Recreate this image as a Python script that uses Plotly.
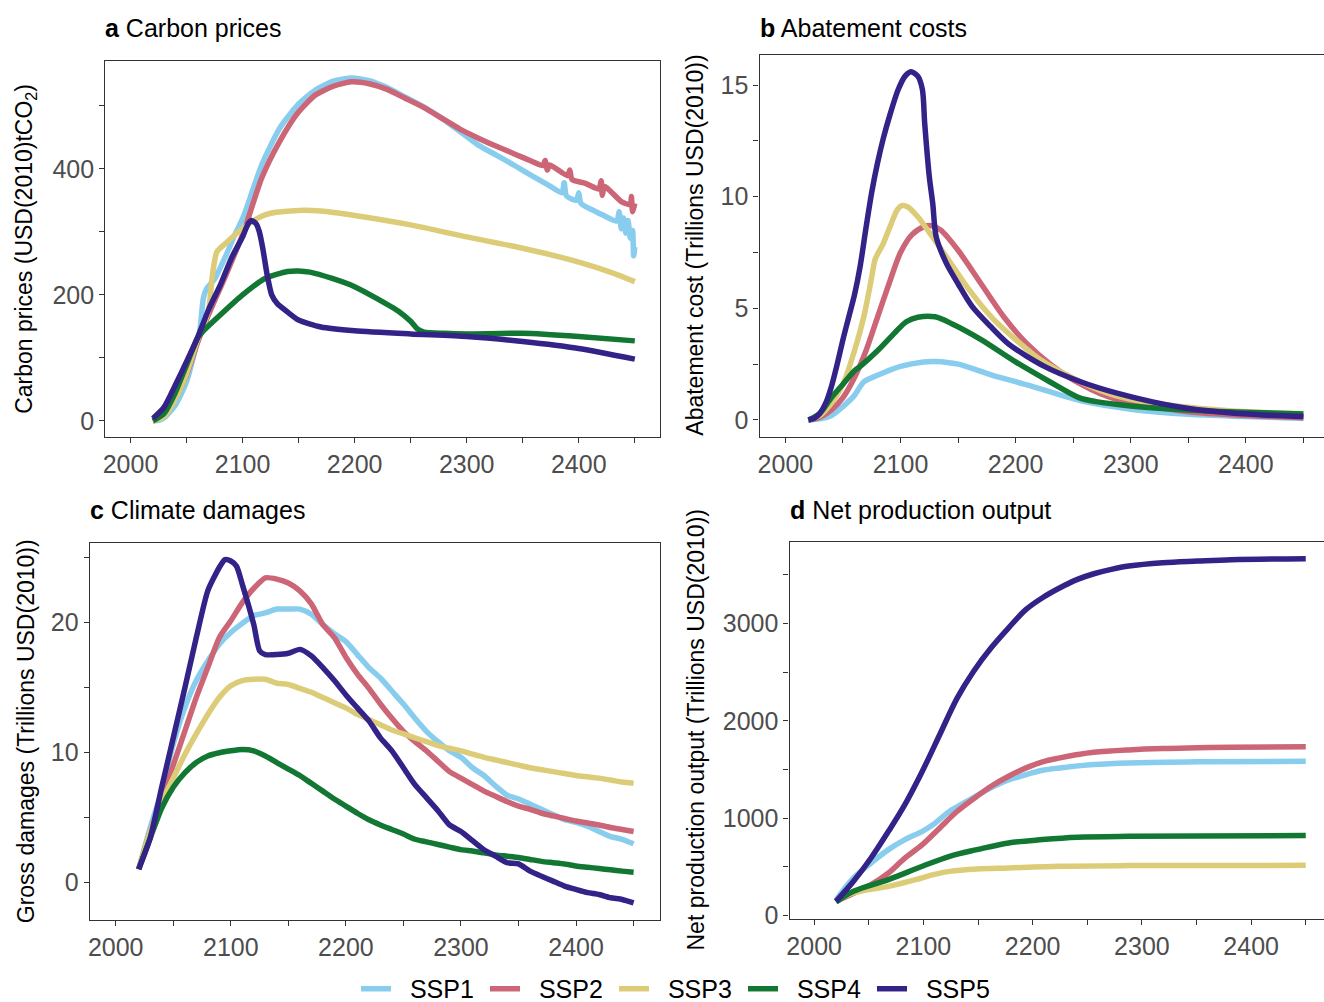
import plotly.graph_objects as go

W, H = 1324, 1002
FONT = "Liberation Sans, Arial, sans-serif"

ssp_names = ["SSP1", "SSP2", "SSP3", "SSP4", "SSP5"]
ssp_colors = ["#88CCEE", "#CC6677", "#DDCC77", "#117733", "#332288"]

# ---------------- Panel a: Carbon prices ----------------
a_ssp1_x = [2020, 2025, 2030, 2040, 2050, 2058, 2062, 2065, 2068, 2075, 2085, 2093, 2101, 2117, 2133, 2149,
            2165, 2181, 2197, 2213, 2229, 2245, 2262, 2278, 2294, 2310, 2326, 2342, 2358, 2374, 2385, 2387,
            2389, 2398, 2400, 2402, 2420, 2434, 2436, 2438, 2440, 2442, 2444, 2446, 2448, 2449, 2450]
a_ssp1_y = [0, 1, 5, 25, 62, 115, 145, 195, 210, 225, 262, 295, 325, 406, 464, 501,
            525, 539, 544, 540, 529, 514, 498, 480, 459, 438, 422, 406, 389, 373, 362, 378,
            357, 350, 362, 345, 328, 317, 332, 305, 322, 298, 318, 290, 302, 262, 276]
a_ssp2_x = [2020, 2030, 2040, 2050, 2060, 2070, 2085, 2101, 2117, 2133, 2149, 2165, 2181, 2197, 2213, 2229,
            2245, 2262, 2278, 2294, 2310, 2326, 2342, 2358, 2368, 2370, 2372, 2374, 2390, 2392, 2394, 2406,
            2418, 2420, 2421, 2423, 2438, 2446, 2447, 2448, 2450]
a_ssp2_y = [0, 8, 36, 73, 125, 170, 231, 300, 385, 443, 488, 517, 531, 538, 535, 526,
            512, 497, 480, 463, 449, 436, 424, 412, 405, 413, 398, 406, 389, 398, 383, 377,
            368, 381, 358, 372, 348, 343, 356, 332, 345]
a_ssp3_x = [2020, 2030, 2040, 2050, 2060, 2065, 2070, 2073, 2077, 2085, 2093, 2100, 2110, 2120, 2130, 2150,
            2170, 2200, 2250, 2300, 2350, 2400, 2430, 2450]
a_ssp3_y = [0, 7, 35, 75, 130, 150, 180, 230, 268, 282, 295, 305, 318, 327, 331, 334,
            333, 326, 311, 292, 274, 252, 235, 221]
a_ssp4_x = [2020, 2030, 2040, 2050, 2060, 2064, 2080, 2100, 2120, 2140, 2150, 2160, 2180, 2200, 2220, 2240,
            2250, 2256, 2262, 2280, 2300, 2350, 2400, 2450]
a_ssp4_y = [0, 12, 45, 89, 132, 141, 168, 200, 226, 237, 238, 236, 226, 213, 194, 173,
            158, 146, 141, 139, 138, 139, 134, 127]
a_ssp5_x = [2020, 2030, 2040, 2050, 2060, 2070, 2080, 2090, 2100, 2105, 2108, 2112, 2115, 2118, 2122, 2126,
            2131, 2140, 2150, 2170, 2200, 2250, 2300, 2350, 2400, 2450]
a_ssp5_y = [4, 22, 57, 94, 133, 178, 215, 258, 292, 313, 318, 313, 300, 274, 231, 200,
            186, 173, 160, 149, 143, 138, 134, 126, 115, 98]

# ---------------- Panel b: Abatement costs ----------------
b_ssp1_x = [2020, 2030, 2040, 2050, 2060, 2068, 2080, 2100, 2120, 2130, 2150, 2180, 2210, 2240, 2260, 2300,
            2350, 2400, 2450]
b_ssp1_y = [0, 0.05, 0.2, 0.6, 1.1, 1.7, 2.0, 2.4, 2.6, 2.62, 2.5, 2.0, 1.57, 1.1, 0.82, 0.48,
            0.25, 0.15, 0.07]
b_ssp2_x = [2020, 2030, 2040, 2050, 2060, 2070, 2080, 2090, 2100, 2110, 2120, 2127, 2135, 2150, 2170, 2190,
            2210, 2230, 2250, 2280, 2300, 2350, 2400, 2450]
b_ssp2_y = [0, 0.12, 0.45, 1.0, 1.9, 3.1, 4.6, 6.1, 7.5, 8.3, 8.65, 8.7, 8.5, 7.6, 6.1, 4.6,
            3.4, 2.5, 1.8, 1.05, 0.78, 0.37, 0.2, 0.1]
b_ssp3_x = [2020, 2030, 2040, 2050, 2060, 2068, 2075, 2078, 2085, 2092, 2097, 2101, 2106, 2115, 2125, 2140,
            2160, 2180, 2200, 2220, 2250, 2280, 2300, 2350, 2400, 2450]
b_ssp3_y = [0, 0.2, 0.75, 1.6, 3.1, 4.6, 6.4, 7.2, 7.9, 8.8, 9.4, 9.6, 9.55, 9.1, 8.4, 7.3,
            5.8, 4.55, 3.6, 2.75, 1.87, 1.2, 0.93, 0.57, 0.37, 0.27]
b_ssp4_x = [2020, 2030, 2040, 2050, 2060, 2065, 2080, 2095, 2105, 2115, 2130, 2145, 2170, 2200, 2230, 2255,
            2270, 2300, 2350, 2400, 2450]
b_ssp4_y = [0, 0.3, 1.0, 1.6, 2.2, 2.4, 3.1, 3.9, 4.4, 4.6, 4.62, 4.3, 3.6, 2.6, 1.7, 1.0,
            0.82, 0.63, 0.45, 0.34, 0.27]
b_ssp5_x = [2020, 2025, 2030, 2035, 2040, 2045, 2050, 2055, 2060, 2065, 2070, 2075, 2080, 2085, 2091, 2098,
            2104, 2109, 2115, 2119, 2121, 2125, 2128, 2131, 2140, 2150, 2162, 2178, 2194, 2225, 2257, 2288,
            2320, 2352, 2383, 2415, 2450]
b_ssp5_y = [0, 0.07, 0.3, 0.75, 1.5, 2.5, 3.6, 4.6, 5.6, 6.9, 8.6, 10.2, 11.5, 12.6, 13.7, 14.8,
            15.4, 15.6, 15.4, 14.8, 13.3, 10.9, 9.7, 8.2, 7.0, 6.1, 5.1, 4.2, 3.4, 2.4, 1.7, 1.2,
            0.8, 0.5, 0.33, 0.22, 0.15]

# ---------------- Panel c: Climate damages ----------------
c_years = [2020, 2030, 2040, 2050, 2060, 2070, 2080, 2090, 2100, 2110, 2120, 2130, 2140, 2150, 2160, 2170,
           2180, 2190, 2200, 2210, 2220, 2230, 2240, 2250, 2260, 2270, 2280, 2290, 2300, 2310, 2320, 2330,
           2340, 2350, 2360, 2370, 2380, 2390, 2400, 2410, 2420, 2430, 2440, 2450]
c_ssp1 = [1.0, 4.2, 7.0, 10.6, 13.4, 15.5, 17.0, 18.3, 19.2, 19.9, 20.5, 20.7, 21.0, 21.0, 21.0, 20.6,
          19.8, 19.1, 18.5, 17.5, 16.5, 15.7, 14.7, 13.7, 12.6, 11.6, 10.8, 10.1, 9.6, 8.8, 8.2, 7.4,
          6.7, 6.4, 6.0, 5.6, 5.2, 4.8, 4.6, 4.3, 3.9, 3.5, 3.3, 2.95]
c_ssp2 = [1.0, 3.9, 6.2, 9.0, 11.6, 14.2, 16.5, 18.8, 20.1, 21.5, 22.6, 23.4, 23.3, 23.0, 22.4, 21.4,
          19.8, 18.8, 17.3, 16.0, 14.9, 13.7, 12.6, 11.6, 10.8, 10.1, 9.3, 8.5, 8.0, 7.5, 7.0, 6.6,
          6.2, 5.85, 5.6, 5.3, 5.1, 4.9, 4.7, 4.55, 4.4, 4.2, 4.05, 3.9]
c_ssp3 = [1.0, 3.9, 6.2, 8.0, 9.8, 11.4, 12.9, 14.2, 15.1, 15.5, 15.6, 15.6, 15.3, 15.2, 14.9, 14.6,
          14.2, 13.8, 13.4, 12.9, 12.5, 12.1, 11.7, 11.4, 11.1, 10.8, 10.5, 10.3, 10.1, 9.85, 9.6, 9.4,
          9.2, 9.0, 8.8, 8.65, 8.5, 8.35, 8.2, 8.1, 8.0, 7.85, 7.7, 7.6]
c_ssp4 = [1.0, 3.4, 5.7, 7.3, 8.4, 9.2, 9.7, 9.95, 10.1, 10.2, 10.1, 9.7, 9.2, 8.7, 8.2, 7.6,
          7.0, 6.4, 5.85, 5.3, 4.8, 4.4, 4.05, 3.7, 3.3, 3.1, 2.9, 2.7, 2.5, 2.4, 2.25, 2.1,
          2.0, 1.9, 1.75, 1.6, 1.5, 1.4, 1.25, 1.15, 1.05, 0.95, 0.85, 0.77]
c_ssp5 = [1.0, 3.4, 7.3, 11.1, 14.9, 18.8, 22.4, 24.2, 24.7, 22.9, 19.8, 17.5, 17.5, 17.6, 17.9, 17.4,
          16.5, 15.5, 14.4, 13.4, 12.4, 11.1, 10.1, 8.8, 7.5, 6.5, 5.5, 4.4, 3.9, 3.2, 2.5, 2.0,
          1.5, 1.4, 0.85, 0.46, 0.08, -0.3, -0.56, -0.8, -0.95, -1.2, -1.33, -1.6]
c_ssp5_peak_x = [2095, 2105, 2125]
c_ssp5_peak_y = [24.8, 24.3, 17.8]

# ---------------- Panel d: Net production output ----------------
d_ssp1_x = [2020, 2036, 2052, 2068, 2083, 2099, 2109, 2124, 2140, 2156, 2171, 2194, 2209, 2225, 2256, 2288, 2351, 2450]
d_ssp1_y = [160, 387, 541, 678, 781, 866, 935, 1072, 1175, 1277, 1363, 1449, 1493, 1517, 1551, 1568, 1579, 1586]
d_ssp2_x = [2020, 2052, 2068, 2083, 2099, 2115, 2131, 2149, 2162, 2178, 2194, 2209, 2225, 2241, 2256, 2288,
            2319, 2351, 2382, 2450]
d_ssp2_y = [147, 318, 438, 592, 729, 901, 1072, 1226, 1329, 1432, 1517, 1579, 1620, 1654, 1678, 1702,
            1716, 1723, 1729, 1733]
d_ssp3_x = [2020, 2036, 2068, 2093, 2109, 2124, 2149, 2178, 2225, 2288, 2450]
d_ssp3_y = [150, 233, 301, 370, 421, 455, 479, 490, 507, 514, 517]
d_ssp4_x = [2020, 2036, 2068, 2099, 2124, 2149, 2178, 2209, 2241, 2288, 2450]
d_ssp4_y = [140, 250, 370, 507, 610, 678, 747, 781, 805, 815, 822]
d_ssp5_x = [2020, 2036, 2052, 2068, 2083, 2099, 2115, 2131, 2146, 2162, 2178, 2194, 2209, 2225, 2241, 2256,
            2272, 2288, 2319, 2351, 2382, 2450]
d_ssp5_y = [147, 353, 592, 866, 1140, 1483, 1860, 2236, 2510, 2750, 2955, 3144, 3264, 3366, 3452, 3510,
            3555, 3589, 3623, 3640, 3654, 3664]

# ticks (labelled majors; unlabelled minors in between)
x_tickvals = [2000, 2100, 2200, 2300, 2400]
a_tickvals = [0, 200, 400]
b_tickvals = [0, 5, 10, 15]
c_tickvals = [0, 10, 20]
d_tickvals = [0, 1000, 2000, 3000]

panel_titles = ["<b>a</b> Carbon prices", "<b>b</b> Abatement costs",
                "<b>c</b> Climate damages", "<b>d</b> Net production output"]
y_titles = ["Carbon prices (USD(2010)tCO<sub>2</sub>)", "Abatement cost (Trillions USD(2010))",
            "Gross damages (Trillions USD(2010))", "Net production output (Trillions USD(2010))"]

c5 = sorted(list(zip(c_years, c_ssp5)) + list(zip(c_ssp5_peak_x, c_ssp5_peak_y)))
panels = [
    [(a_ssp1_x, a_ssp1_y), (a_ssp2_x, a_ssp2_y), (a_ssp3_x, a_ssp3_y), (a_ssp4_x, a_ssp4_y), (a_ssp5_x, a_ssp5_y)],
    [(b_ssp1_x, b_ssp1_y), (b_ssp2_x, b_ssp2_y), (b_ssp3_x, b_ssp3_y), (b_ssp4_x, b_ssp4_y), (b_ssp5_x, b_ssp5_y)],
    [(c_years, c_ssp1), (c_years, c_ssp2), (c_years, c_ssp3), (c_years, c_ssp4),
     ([p[0] for p in c5], [p[1] for p in c5])],
    [(d_ssp1_x, d_ssp1_y), (d_ssp2_x, d_ssp2_y), (d_ssp3_x, d_ssp3_y), (d_ssp4_x, d_ssp4_y), (d_ssp5_x, d_ssp5_y)],
]
smooth = [0.6, 0.8, 0.6, 1.0]

# layout geometry (pixels)
px_x = [(105.3, 660.0), (759.5, 1324.0), (89.8, 659.5), (789.6, 1324.0)]
px_y = [(61.0, 436.7), (54.7, 436.7), (543.0, 919.5), (542.0, 919.0)]
title_y = [28, 28, 510, 510]
x_ranges = [[1977.5, 2472.5], [1977.5, 2467.9], [1977.5, 2472.5], [1977.5, 2466.7]]
y_ranges = [[-25, 571], [-0.75, 16.36], [-2.87, 26.08], [-34, 3836]]
y_major = [a_tickvals, b_tickvals, c_tickvals, d_tickvals]
y_minor_step = [100, 2.5, 5, 500]
right_border = [True, False, True, False]

fig = go.Figure()
for p, series in enumerate(panels):
    k = "" if p == 0 else str(p + 1)
    for i, (xs, ys) in enumerate(series):
        fig.add_trace(go.Scatter(
            x=xs, y=ys, mode="lines", name="\u00a0\u00a0" + ssp_names[i],
            line=dict(color=ssp_colors[i], width=5.5, shape="spline", smoothing=smooth[p]),
            xaxis="x" + k, yaxis="y" + k, showlegend=(p == 0), legendrank=i + 1,
            hoverinfo="skip"))

tick_style = dict(ticks="outside", ticklen=5, tickwidth=1.2, tickcolor="#333333")
layout = dict(
    width=W, height=H, autosize=False,
    margin=dict(l=0, r=0, t=0, b=0, autoexpand=False),
    paper_bgcolor="white", plot_bgcolor="white",
    font=dict(family=FONT, color="black"),
    showlegend=True,
    legend=dict(orientation="h", x=356 / W, xanchor="left", y=0.013, yanchor="middle",
                font=dict(family=FONT, size=25, color="black"), bgcolor="rgba(0,0,0,0)",
                traceorder="normal", entrywidth=84, entrywidthmode="pixels"),
)
annotations = []
for p in range(4):
    k = "" if p == 0 else str(p + 1)
    x0, x1 = px_x[p]
    y0, y1 = px_y[p]
    layout["xaxis" + k] = dict(
        domain=[x0 / W, x1 / W], range=x_ranges[p], anchor="y" + k,
        showline=True, linecolor="#333333", linewidth=1.3, mirror=True,
        tickmode="array", tickvals=x_tickvals, **tick_style,
        minor=dict(tick0=2000, dtick=50, showgrid=False, **tick_style),
        tickfont=dict(family=FONT, size=25, color="#4D4D4D"),
        showgrid=False, zeroline=False, automargin=False, fixedrange=True)
    layout["yaxis" + k] = dict(
        domain=[(H - y1) / H, (H - y0) / H], range=y_ranges[p], anchor="x" + k,
        showline=True, linecolor="#333333", linewidth=1.3, mirror=right_border[p],
        tickmode="array", tickvals=y_major[p], **tick_style,
        minor=dict(tick0=0, dtick=y_minor_step[p], showgrid=False, **tick_style),
        tickfont=dict(family=FONT, size=25, color="#4D4D4D"),
        showgrid=False, zeroline=False, automargin=False, fixedrange=True)
    annotations.append(dict(
        text=panel_titles[p], xref="paper", yref="paper", x=(x0 - 2) / W, y=(H - title_y[p]) / H,
        xanchor="left", yanchor="middle", showarrow=False,
        font=dict(family=FONT, size=25, color="black")))
    tx = 26 if p in (0, 2) else 695
    annotations.append(dict(
        text=y_titles[p], xref="paper", yref="paper", x=tx / W, y=(H - (y0 + y1) / 2) / H,
        xanchor="center", yanchor="middle", textangle=-90, showarrow=False,
        font=dict(family=FONT, size=23, color="black")))
layout["annotations"] = annotations
fig.update_layout(**layout)

fig.write_html("out.html", include_plotlyjs=True, full_html=True)
